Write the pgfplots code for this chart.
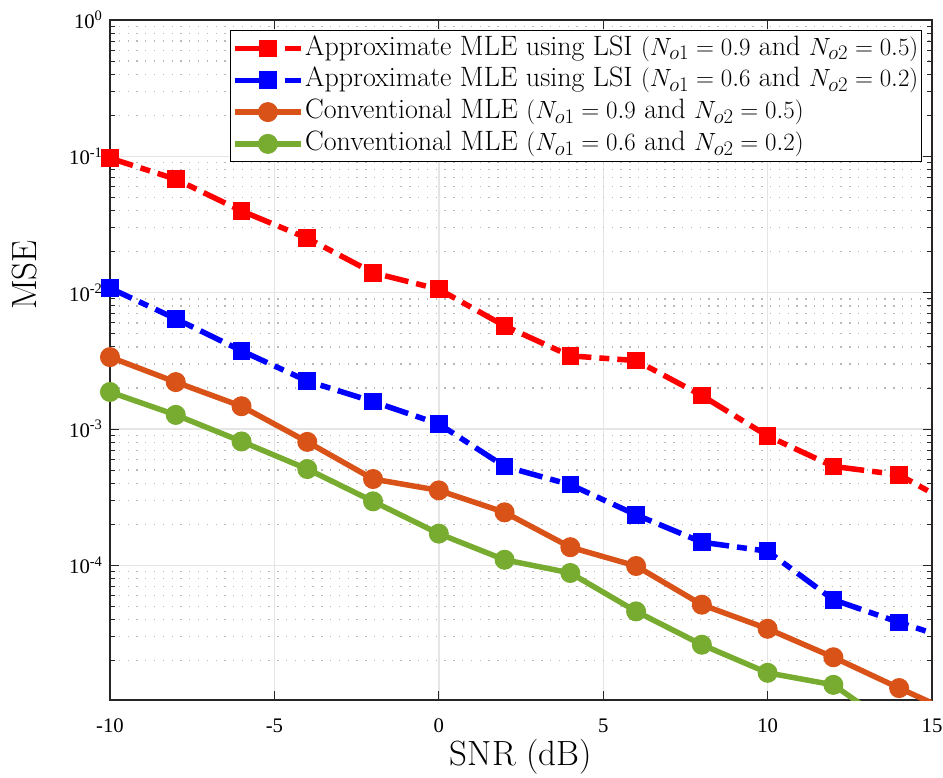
\documentclass[border=0pt]{standalone}
\usepackage{fontspec}
\newfontfamily\timesf{Liberation Serif}
\usepackage{pgfplots}
\pgfplotsset{compat=1.18}
\definecolor{morange}{RGB}{217,83,25}
\definecolor{mgreen}{RGB}{119,172,48}
\definecolor{axgray}{RGB}{38,38,38}
\begin{document}
\begin{tikzpicture}
\begin{axis}[
  scale only axis, width=822pt, height=680pt,
  xmin=-10, xmax=15, ymode=log, ymin=1.03e-5, ymax=1,
  xtick={-10,-5,0,5,10,15},
  xticklabels={-10,-5,0,5,10,15},
  ytick={1e-4,1e-3,1e-2,1e-1,1},
  yticklabels={10\textsuperscript{-4},10\textsuperscript{-3},10\textsuperscript{-2},10\textsuperscript{-1},10\textsuperscript{0}},
  minor ytick={2e-5,3e-5,4e-5,5e-5,6e-5,7e-5,8e-5,9e-5,
    2e-4,3e-4,4e-4,5e-4,6e-4,7e-4,8e-4,9e-4,
    2e-3,3e-3,4e-3,5e-3,6e-3,7e-3,8e-3,9e-3,
    2e-2,3e-2,4e-2,5e-2,6e-2,7e-2,8e-2,9e-2,
    2e-1,3e-1,4e-1,5e-1,6e-1,7e-1,8e-1,9e-1},
  ymajorgrids, xmajorgrids, yminorgrids,
  major grid style={draw=black!10, line width=1.4pt},
  minor grid style={draw=black!28, line width=1.3pt, dash pattern=on 1.3pt off 7.5pt},
  tick align=inside,
  major tick length=9pt, minor tick length=5pt,
  tick style={draw=axgray, line width=1pt},
  axis line style={draw=axgray, line width=1.3pt},
  ticklabel style={font=\timesf\fontsize{20.7}{24}\selectfont, text=black},
  xticklabel style={yshift=-15pt},
  yticklabel style={xshift=-4pt},
  xlabel={SNR (dB)}, ylabel={MSE},
  label style={font=\fontsize{35}{40}\selectfont},
  xlabel style={at={(axis description cs:0.5,0)}, anchor=center, yshift=-57pt},
  ylabel style={at={(axis description cs:-0.1034,0.625)}, anchor=center},
  legend style={at={(0.988,0.985)}, anchor=north east, draw=black, line width=0.8pt, fill=white,
    font=\fontsize{28}{31}\selectfont, inner sep=2pt,
    nodes={inner sep=1.5pt, text height=21pt, text depth=7.8pt},
    row sep=0pt},
  legend cell align=left,
  legend image code/.code={\draw[mark repeat=2,mark phase=2] plot coordinates {(0pt,0pt) (33pt,0pt) (66pt,0pt)};},
  clip=true,
]
\addplot[color=red, line width=5.5pt, dash pattern=on 24pt off 8pt on 10pt off 8pt,
  mark=square*, mark size=8.3pt, mark options={solid, fill=red, line width=1pt}] coordinates {
  (-10,0.097) (-8,0.068) (-6,0.0398) (-4,0.0251) (-2,0.0140) (0,0.0106) (2,0.00571)
  (4,0.00344) (6,0.00318) (8,0.00176) (10,0.00089) (12,0.000532) (14,0.000462) (16,0.000249)};
\addlegendentry{Approximate MLE using LSI $(N_{o1}=0.9\ \mathrm{and}\ N_{o2}=0.5)$}
\addplot[color=blue, line width=5.5pt, dash pattern=on 24pt off 8pt on 10pt off 8pt,
  mark=square*, mark size=8.3pt, mark options={solid, fill=blue, line width=1pt}] coordinates {
  (-10,0.0108) (-8,0.00644) (-6,0.00375) (-4,0.00225) (-2,0.00159) (0,0.00109) (2,0.000532)
  (4,0.000391) (6,0.000235) (8,0.000148) (10,0.000127) (12,5.6e-5) (14,3.82e-5) (16,2.67e-5)};
\addlegendentry{Approximate MLE using LSI $(N_{o1}=0.6\ \mathrm{and}\ N_{o2}=0.2)$}
\addplot[color=morange, line width=5.5pt,
  mark=*, mark size=9.5pt, mark options={solid, fill=morange, line width=1pt}] coordinates {
  (-10,0.00337) (-8,0.00221) (-6,0.00147) (-4,0.000805) (-2,0.00043) (0,0.000355) (2,0.000245)
  (4,0.000136) (6,9.9e-5) (8,5.15e-5) (10,3.43e-5) (12,2.12e-5) (14,1.26e-5) (16,7.6e-6)};
\addlegendentry{Conventional MLE $(N_{o1}=0.9\ \mathrm{and}\ N_{o2}=0.5)$}
\addplot[color=mgreen, line width=5.5pt,
  mark=*, mark size=9.5pt, mark options={solid, fill=mgreen, line width=1pt}] coordinates {
  (-10,0.00187) (-8,0.00127) (-6,0.000811) (-4,0.000509) (-2,0.000295) (0,0.000171) (2,0.000110)
  (4,8.8e-5) (6,4.6e-5) (8,2.62e-5) (10,1.63e-5) (12,1.33e-5) (14,6.1e-6)};
\addlegendentry{Conventional MLE $(N_{o1}=0.6\ \mathrm{and}\ N_{o2}=0.2)$}
\end{axis}
\pgfresetboundingbox
\useasboundingbox ([shift={(-110pt,-78pt)}]current axis.south west) rectangle ([shift={(11pt,20pt)}]current axis.north east);
\end{tikzpicture}
\end{document}
